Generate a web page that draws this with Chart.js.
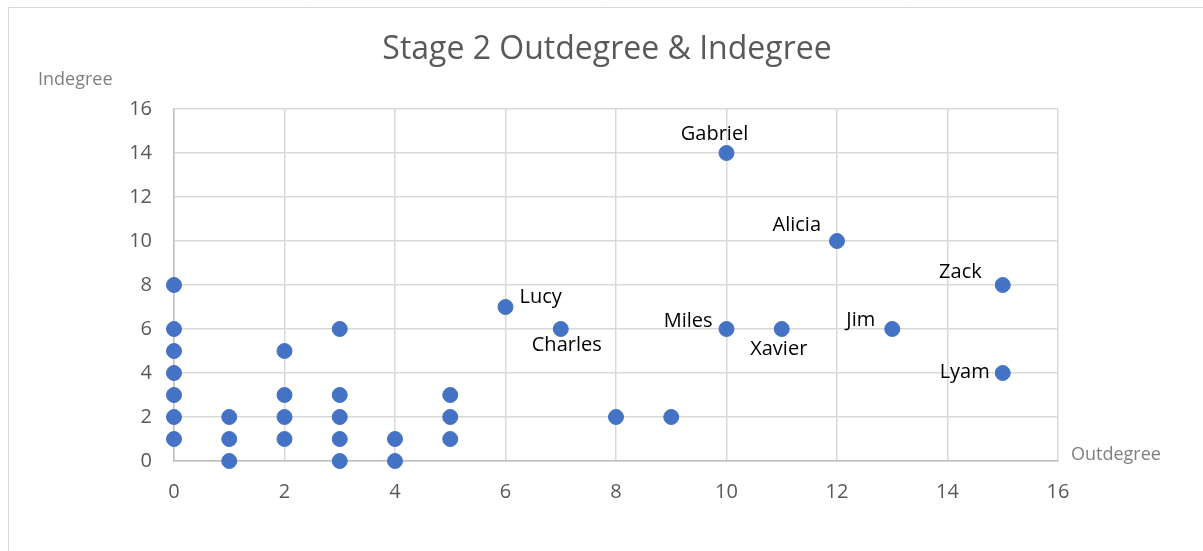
<!DOCTYPE html>
<html>
<head>
<meta charset="utf-8">
<script src="https://cdn.jsdelivr.net/npm/chart.js@4.4.1/dist/chart.umd.min.js"></script>
<style>
  html, body { margin: 0; padding: 0; background: #fff; }
  #wrap { position: relative; width: 1203px; height: 551px; }
</style>
</head>
<body>
<div id="wrap"><canvas id="scatterChart" width="1203" height="551"></canvas></div>
<script>
// data
var outdegree = [0, 0, 0, 0, 0, 0, 0, 1, 1, 1, 2, 2, 2, 2, 3, 3, 3, 3, 3, 4, 4, 5, 5, 5, 6, 7, 8, 9, 10, 10, 11, 12, 13, 15, 15];
var indegree  = [8, 6, 5, 4, 3, 2, 1, 2, 1, 0, 5, 3, 2, 1, 6, 3, 2, 1, 0, 1, 0, 3, 2, 1, 7, 6, 2, 2, 14, 6, 6, 10, 6, 8, 4];
var names     = ['', '', '', '', '', '', '', '', '', '', '', '', '', '', '', '', '', '', '', '', '', '', '', '',
                 'Lucy', 'Charles', '', '', 'Gabriel', 'Miles', 'Xavier', 'Alicia', 'Jim', 'Zack', 'Lyam'];

var axisTicks = [0, 2, 4, 6, 8, 10, 12, 14, 16];
var chartTitle = 'Stage 2 Outdegree & Indegree';
var xTitle = 'Outdegree';
var yTitle = 'Indegree';

var FONT = '"Open Sans", sans-serif';

// where each name sits relative to its dot
var labelPlace = {
  'Gabriel': { dx: -12, dy: -19, align: 'center' },
  'Alicia':  { dx: -16, dy: -16, align: 'right' },
  'Zack':    { dx: -21, dy: -13, align: 'right' },
  'Lucy':    { dx: 14,  dy: -10, align: 'left' },
  'Charles': { dx: 6,   dy: 16,  align: 'center' },
  'Miles':   { dx: -14, dy: -8,  align: 'right' },
  'Xavier':  { dx: -3,  dy: 20,  align: 'center' },
  'Jim':     { dx: -17, dy: -9,  align: 'right' },
  'Lyam':    { dx: -13, dy: -1,  align: 'right' }
};

var points = outdegree.map(function(x, i) {
  return { x: x, y: indegree[i] };
});

var decorations = {
  id: 'decorations',
  beforeDraw: function(chart) {
    var ctx = chart.ctx;
    ctx.save();
    ctx.strokeStyle = '#d9d9d9';
    ctx.lineWidth = 1;
    ctx.beginPath();
    ctx.moveTo(8.5, 551);
    ctx.lineTo(8.5, 7.5);
    ctx.lineTo(1203, 7.5);
    ctx.stroke();
    ctx.restore();
  },
  afterDraw: function(chart) {
    var ctx = chart.ctx;
    var xs = chart.scales.x, ys = chart.scales.y;
    ctx.save();
    ctx.textBaseline = 'middle';

    ctx.fillStyle = '#595959';
    ctx.font = '32px ' + FONT;
    ctx.textAlign = 'center';
    ctx.fillText(chartTitle, 607, 50);

    ctx.fillStyle = '#7f7f7f';
    ctx.font = '18px ' + FONT;
    ctx.textAlign = 'left';
    ctx.fillText(yTitle, 38, 80);
    ctx.fillText(xTitle, 1071, 455);

    ctx.fillStyle = '#000';
    ctx.font = '20px ' + FONT;
    names.forEach(function(n, i) {
      if (!n) return;
      var p = labelPlace[n];
      ctx.textAlign = p.align;
      ctx.fillText(n, xs.getPixelForValue(outdegree[i]) + p.dx, ys.getPixelForValue(indegree[i]) + p.dy);
    });
    ctx.restore();
  }
};

var ctx = document.getElementById('scatterChart').getContext('2d');
new Chart(ctx, {
  type: 'scatter',
  data: {
    datasets: [{
      data: points,
      backgroundColor: '#4472c4',
      borderColor: '#4472c4',
      pointRadius: 7.5,
      pointHoverRadius: 7.5,
      clip: false
    }]
  },
  options: {
    responsive: false,
    animation: false,
    layout: { padding: { top: 109, right: 145, bottom: 0, left: 0 } },
    plugins: {
      legend: { display: false },
      tooltip: { enabled: false }
    },
    scales: {
      x: {
        type: 'linear',
        min: 0,
        max: 16,
        afterBuildTicks: function(scale) {
          scale.ticks = axisTicks.map(function(v) { return { value: v }; });
        },
        afterFit: function(scale) { scale.height = 90; },
        grid: { color: '#d9d9d9', lineWidth: 1.5, drawTicks: false },
        border: { color: '#bfbfbf', width: 1.5 },
        ticks: { color: '#595959', padding: 19, font: { family: FONT, size: 20 } }
      },
      y: {
        type: 'linear',
        min: 0,
        max: 16,
        afterBuildTicks: function(scale) {
          scale.ticks = axisTicks.map(function(v) { return { value: v }; });
        },
        afterFit: function(scale) { scale.width = 174; },
        grid: { color: '#d9d9d9', lineWidth: 1.5, drawTicks: false },
        border: { color: '#bfbfbf', width: 1.5 },
        ticks: { color: '#595959', padding: 22, font: { family: FONT, size: 20 } }
      }
    }
  },
  plugins: [decorations]
});
</script>
</body>
</html>
